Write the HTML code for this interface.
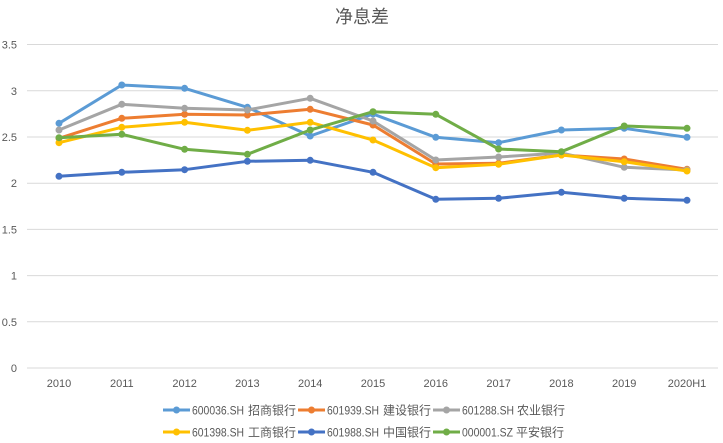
<!DOCTYPE html>
<html><head><meta charset="utf-8"><style>
html,body{margin:0;padding:0;background:#fff;}
svg{display:block;}
text{font-family:"Liberation Sans","Noto Sans CJK SC",sans-serif;fill:#595959;}
</style></head><body>
<svg width="723" height="443" viewBox="0 0 723 443" xmlns="http://www.w3.org/2000/svg">
<rect width="723" height="443" fill="#fff"/>
<text x="362" y="23" font-size="18" text-anchor="middle" font-family="'Noto Sans CJK SC',sans-serif">净息差</text>
<g stroke="#D9D9D9" stroke-width="1">
<line x1="27" x2="718" y1="44.5" y2="44.5"/>
<line x1="27" x2="718" y1="90.8" y2="90.8"/>
<line x1="27" x2="718" y1="137" y2="137"/>
<line x1="27" x2="718" y1="183.2" y2="183.2"/>
<line x1="27" x2="718" y1="229.4" y2="229.4"/>
<line x1="27" x2="718" y1="275.6" y2="275.6"/>
<line x1="27" x2="718" y1="321.8" y2="321.8"/>
<line x1="27" x2="718" y1="368" y2="368"/>
</g>
<g font-size="11" text-anchor="end">
<text x="17" y="48.5">3.5</text>
<text x="17" y="94.8">3</text>
<text x="17" y="141">2.5</text>
<text x="17" y="187.2">2</text>
<text x="17" y="233.4">1.5</text>
<text x="17" y="279.6">1</text>
<text x="17" y="325.8">0.5</text>
<text x="17" y="372">0</text>
</g>
<g font-size="11" text-anchor="middle">
<text x="59" y="387">2010</text>
<text x="121.8" y="387">2011</text>
<text x="184.6" y="387">2012</text>
<text x="247.4" y="387">2013</text>
<text x="310.2" y="387">2014</text>
<text x="373" y="387">2015</text>
<text x="435.8" y="387">2016</text>
<text x="498.6" y="387">2017</text>
<text x="561.4" y="387">2018</text>
<text x="624.2" y="387">2019</text>
<text x="687" y="387">2020H1</text>
</g>

<!-- 招商 -->
<g stroke="#5B9BD5" fill="#5B9BD5">
<polyline fill="none" stroke-width="3" stroke-linejoin="round" points="59,123.3 121.8,85 184.6,88.3 247.4,107.3 310.2,136 373,114 435.8,137.3 498.6,142.7 561.4,130 624.2,128.3 687,137.3"/>
<g stroke="none"><circle cx="59" cy="123.3" r="3.5"/><circle cx="121.8" cy="85" r="3.5"/><circle cx="184.6" cy="88.3" r="3.5"/><circle cx="247.4" cy="107.3" r="3.5"/><circle cx="310.2" cy="136" r="3.5"/><circle cx="373" cy="114" r="3.5"/><circle cx="435.8" cy="137.3" r="3.5"/><circle cx="498.6" cy="142.7" r="3.5"/><circle cx="561.4" cy="130" r="3.5"/><circle cx="624.2" cy="128.3" r="3.5"/><circle cx="687" cy="137.3" r="3.5"/></g>
</g>
<!-- 建设 -->
<g stroke="#ED7D31" fill="#ED7D31">
<polyline fill="none" stroke-width="3" stroke-linejoin="round" points="59,138.3 121.8,118.3 184.6,114.3 247.4,115 310.2,109.3 373,125 435.8,164 498.6,163.3 561.4,155 624.2,159 687,169.3"/>
<g stroke="none"><circle cx="59" cy="138.3" r="3.5"/><circle cx="121.8" cy="118.3" r="3.5"/><circle cx="184.6" cy="114.3" r="3.5"/><circle cx="247.4" cy="115" r="3.5"/><circle cx="310.2" cy="109.3" r="3.5"/><circle cx="373" cy="125" r="3.5"/><circle cx="435.8" cy="164" r="3.5"/><circle cx="498.6" cy="163.3" r="3.5"/><circle cx="561.4" cy="155" r="3.5"/><circle cx="624.2" cy="159" r="3.5"/><circle cx="687" cy="169.3" r="3.5"/></g>
</g>
<!-- 农业 -->
<g stroke="#A5A5A5" fill="#A5A5A5">
<polyline fill="none" stroke-width="3" stroke-linejoin="round" points="59,130 121.8,104.3 184.6,108.3 247.4,110 310.2,98.3 373,121 435.8,160 498.6,157 561.4,153 624.2,167.3 687,170"/>
<g stroke="none"><circle cx="59" cy="130" r="3.5"/><circle cx="121.8" cy="104.3" r="3.5"/><circle cx="184.6" cy="108.3" r="3.5"/><circle cx="247.4" cy="110" r="3.5"/><circle cx="310.2" cy="98.3" r="3.5"/><circle cx="373" cy="121" r="3.5"/><circle cx="435.8" cy="160" r="3.5"/><circle cx="498.6" cy="157" r="3.5"/><circle cx="561.4" cy="153" r="3.5"/><circle cx="624.2" cy="167.3" r="3.5"/><circle cx="687" cy="170" r="3.5"/></g>
</g>
<!-- 工商 -->
<g stroke="#FFC000" fill="#FFC000">
<polyline fill="none" stroke-width="3" stroke-linejoin="round" points="59,142.7 121.8,127.3 184.6,122.3 247.4,130.3 310.2,122.3 373,140 435.8,167.7 498.6,164.3 561.4,155 624.2,161.7 687,171"/>
<g stroke="none"><circle cx="59" cy="142.7" r="3.5"/><circle cx="121.8" cy="127.3" r="3.5"/><circle cx="184.6" cy="122.3" r="3.5"/><circle cx="247.4" cy="130.3" r="3.5"/><circle cx="310.2" cy="122.3" r="3.5"/><circle cx="373" cy="140" r="3.5"/><circle cx="435.8" cy="167.7" r="3.5"/><circle cx="498.6" cy="164.3" r="3.5"/><circle cx="561.4" cy="155" r="3.5"/><circle cx="624.2" cy="161.7" r="3.5"/><circle cx="687" cy="171" r="3.5"/></g>
</g>
<!-- 中国 -->
<g stroke="#4472C4" fill="#4472C4">
<polyline fill="none" stroke-width="3" stroke-linejoin="round" points="59,176.3 121.8,172.3 184.6,169.7 247.4,161.3 310.2,160.3 373,172.3 435.8,199.3 498.6,198.3 561.4,192.3 624.2,198.3 687,200.3"/>
<g stroke="none"><circle cx="59" cy="176.3" r="3.5"/><circle cx="121.8" cy="172.3" r="3.5"/><circle cx="184.6" cy="169.7" r="3.5"/><circle cx="247.4" cy="161.3" r="3.5"/><circle cx="310.2" cy="160.3" r="3.5"/><circle cx="373" cy="172.3" r="3.5"/><circle cx="435.8" cy="199.3" r="3.5"/><circle cx="498.6" cy="198.3" r="3.5"/><circle cx="561.4" cy="192.3" r="3.5"/><circle cx="624.2" cy="198.3" r="3.5"/><circle cx="687" cy="200.3" r="3.5"/></g>
</g>
<!-- 平安 -->
<g stroke="#70AD47" fill="#70AD47">
<polyline fill="none" stroke-width="3" stroke-linejoin="round" points="59,137.7 121.8,134.3 184.6,149.3 247.4,154.3 310.2,130 373,111.7 435.8,114.3 498.6,149 561.4,151.7 624.2,126 687,128.3"/>
<g stroke="none"><circle cx="59" cy="137.7" r="3.5"/><circle cx="121.8" cy="134.3" r="3.5"/><circle cx="184.6" cy="149.3" r="3.5"/><circle cx="247.4" cy="154.3" r="3.5"/><circle cx="310.2" cy="130" r="3.5"/><circle cx="373" cy="111.7" r="3.5"/><circle cx="435.8" cy="114.3" r="3.5"/><circle cx="498.6" cy="149" r="3.5"/><circle cx="561.4" cy="151.7" r="3.5"/><circle cx="624.2" cy="126" r="3.5"/><circle cx="687" cy="128.3" r="3.5"/></g>
</g>

<!-- Legend -->
<g font-size="12">
<line x1="163" x2="190" y1="410" y2="410" stroke="#5B9BD5" stroke-width="3"/><circle cx="176.5" cy="410" r="3.5" fill="#5B9BD5"/>
<text x="192" y="414.5" textLength="52" lengthAdjust="spacingAndGlyphs">600036.SH</text><text x="248" y="414.5" font-family="'Noto Sans CJK SC',sans-serif">招商银行</text>
<line x1="298" x2="325" y1="410" y2="410" stroke="#ED7D31" stroke-width="3"/><circle cx="311.5" cy="410" r="3.5" fill="#ED7D31"/>
<text x="327" y="414.5" textLength="52" lengthAdjust="spacingAndGlyphs">601939.SH</text><text x="383" y="414.5" font-family="'Noto Sans CJK SC',sans-serif">建设银行</text>
<line x1="433" x2="460" y1="410" y2="410" stroke="#A5A5A5" stroke-width="3"/><circle cx="446.5" cy="410" r="3.5" fill="#A5A5A5"/>
<text x="462" y="414.5" textLength="52" lengthAdjust="spacingAndGlyphs">601288.SH</text><text x="517" y="414.5" font-family="'Noto Sans CJK SC',sans-serif">农业银行</text>

<line x1="163" x2="190" y1="432" y2="432" stroke="#FFC000" stroke-width="3"/><circle cx="176.5" cy="432" r="3.5" fill="#FFC000"/>
<text x="192" y="436.5" textLength="52" lengthAdjust="spacingAndGlyphs">601398.SH</text><text x="248" y="436.5" font-family="'Noto Sans CJK SC',sans-serif">工商银行</text>
<line x1="298" x2="325" y1="432" y2="432" stroke="#4472C4" stroke-width="3"/><circle cx="311.5" cy="432" r="3.5" fill="#4472C4"/>
<text x="327" y="436.5" textLength="52" lengthAdjust="spacingAndGlyphs">601988.SH</text><text x="383" y="436.5" font-family="'Noto Sans CJK SC',sans-serif">中国银行</text>
<line x1="433" x2="460" y1="432" y2="432" stroke="#70AD47" stroke-width="3"/><circle cx="446.5" cy="432" r="3.5" fill="#70AD47"/>
<text x="462" y="436.5" textLength="51" lengthAdjust="spacingAndGlyphs">000001.SZ</text><text x="516" y="436.5" font-family="'Noto Sans CJK SC',sans-serif">平安银行</text>
</g>
</svg>
</body></html>
